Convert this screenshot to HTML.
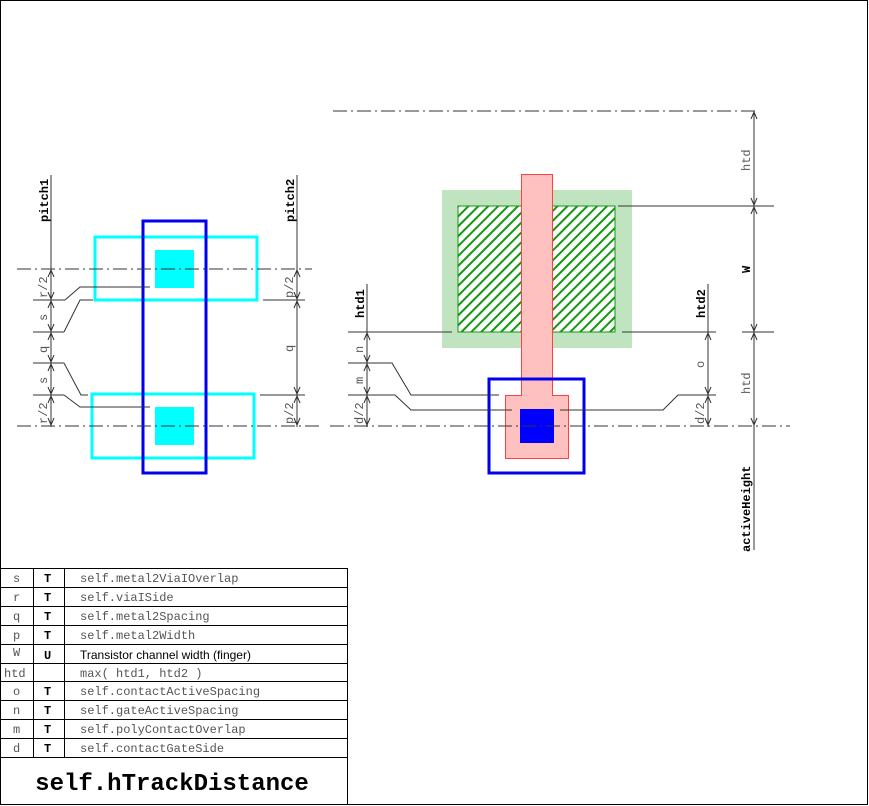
<!DOCTYPE html>
<html><head><meta charset="utf-8"><style>
html,body{margin:0;padding:0;background:#fff}
svg{display:block}
text{font-family:"Liberation Mono",monospace;font-size:12px;fill:#555}
.b{font-weight:bold;fill:#000}
.t{font-size:12px;fill:#444}
</style></head><body>
<svg width="869" height="806" viewBox="0 0 869 806" xmlns="http://www.w3.org/2000/svg">
<defs>
<pattern id="h" patternUnits="userSpaceOnUse" width="7" height="7" patternTransform="rotate(45)">
<rect width="7" height="7" fill="#fff"/><rect x="0" y="0" width="2" height="7" fill="#119911"/>
</pattern>
<marker id="a" markerWidth="8" markerHeight="8" refX="0" refY="4" orient="auto-start-reverse" markerUnits="userSpaceOnUse" viewBox="-8 0 8 8">
<path d="M-7,1 L0,4 L-7,7" fill="none" stroke="#333" stroke-width="1"/>
</marker>
</defs>
<rect x="0.5" y="0.5" width="867" height="804" fill="#fff" stroke="#000"/>

<g stroke="#333" stroke-width="1" fill="none">
<line x1="333" y1="111" x2="758" y2="111" stroke-dasharray="14,4,2,4"/>
</g>

<!-- left layout -->
<rect x="95" y="237" width="162" height="63" fill="none" stroke="#00ffff" stroke-width="3"/>
<rect x="92" y="394" width="162" height="64" fill="none" stroke="#00ffff" stroke-width="3"/>
<rect x="143" y="221" width="63" height="252" fill="none" stroke="#0000ee" stroke-width="3"/>
<rect x="155" y="250" width="39" height="38" fill="#00ffff"/>
<rect x="155" y="407" width="39" height="38" fill="#00ffff"/>

<!-- right layout -->
<rect x="442" y="190" width="190" height="158" fill="#c0e4c0"/>
<rect x="458" y="206" width="157" height="126" fill="url(#h)" stroke="#119911" stroke-width="1"/>
<path d="M521.5,174.5 H552.5 V395.5 H568.5 V458.5 H505.5 V395.5 H521.5 Z" fill="#ffc0c0" stroke="#ff4040"/>
<rect x="489" y="379" width="95" height="94" fill="none" stroke="#0000ee" stroke-width="3"/>
<rect x="520" y="409" width="34" height="34" fill="#0000ff"/>

<g stroke="#333" stroke-width="1" fill="none">
<line x1="17" y1="269" x2="312" y2="269" stroke-dasharray="14,4,2,4"/>
<line x1="17" y1="426" x2="322" y2="426" stroke-dasharray="14,4,2,4"/>
<line x1="330" y1="426" x2="790" y2="426" stroke-dasharray="14,4,2,4"/>
<!-- pitch1 -->
<line x1="51" y1="175" x2="51" y2="427"/>
<line x1="33" y1="300" x2="65" y2="300"/>
<line x1="33" y1="332" x2="64" y2="332"/>
<line x1="33" y1="363" x2="64" y2="363"/>
<line x1="33" y1="395" x2="64" y2="395"/>
<polyline points="65,300 80,287 150,287"/>
<polyline points="64,332 80,300 93,300"/>
<polyline points="64,363 81,395 88,395"/>
<polyline points="64,395 80,407 150,407"/>
<g marker-start="url(#a)" marker-end="url(#a)">
<line x1="51" y1="270" x2="51" y2="299"/>
<line x1="51" y1="301" x2="51" y2="331"/>
<line x1="51" y1="333" x2="51" y2="362"/>
<line x1="51" y1="364" x2="51" y2="394"/>
<line x1="51" y1="396" x2="51" y2="425"/>
</g>
<!-- pitch2 -->
<line x1="297" y1="175" x2="297" y2="427"/>
<line x1="263" y1="300" x2="305" y2="300"/>
<line x1="260" y1="395" x2="305" y2="395"/>
<g marker-start="url(#a)" marker-end="url(#a)">
<line x1="297" y1="270" x2="297" y2="299"/>
<line x1="297" y1="301" x2="297" y2="394"/>
<line x1="297" y1="396" x2="297" y2="425"/>
</g>
<!-- htd1 -->
<line x1="367" y1="284" x2="367" y2="427"/>
<line x1="348" y1="332" x2="452" y2="332"/>
<polyline points="348,363 392,363 411,395 499,395"/>
<polyline points="348,395 395,395 411,410 512,410"/>
<g marker-start="url(#a)" marker-end="url(#a)">
<line x1="367" y1="333" x2="367" y2="362"/>
<line x1="367" y1="364" x2="367" y2="394"/>
<line x1="367" y1="396" x2="367" y2="425"/>
</g>
<!-- htd2 -->
<line x1="708" y1="284" x2="708" y2="427"/>
<line x1="622" y1="332" x2="716" y2="332"/>
<polyline points="716,395 678,395 663,410 560,410"/>
<g marker-start="url(#a)" marker-end="url(#a)">
<line x1="708" y1="333" x2="708" y2="394"/>
<line x1="708" y1="396" x2="708" y2="425"/>
</g>
<!-- right dims -->
<line x1="754" y1="111" x2="754" y2="550"/>
<line x1="618" y1="206" x2="774" y2="206"/>
<line x1="742" y1="332" x2="774" y2="332"/>
<g marker-start="url(#a)" marker-end="url(#a)">
<line x1="754" y1="112" x2="754" y2="205"/>
<line x1="754" y1="207" x2="754" y2="331"/>
<line x1="754" y1="333" x2="754" y2="425"/>
</g>
</g>

<g>
<text class="b" transform="translate(48,222) rotate(-90)">pitch1</text>
<text class="b" transform="translate(294,222) rotate(-90)">pitch2</text>
<text transform="translate(47,298) rotate(-90)">r/2</text>
<text transform="translate(47,321) rotate(-90)">s</text>
<text transform="translate(47,353) rotate(-90)">q</text>
<text transform="translate(47,384) rotate(-90)">s</text>
<text transform="translate(47,424) rotate(-90)">r/2</text>
<text transform="translate(293,298) rotate(-90)">p/2</text>
<text transform="translate(293,352) rotate(-90)">q</text>
<text transform="translate(293,424) rotate(-90)">p/2</text>
<text class="b" transform="translate(364,318) rotate(-90)">htd1</text>
<text class="b" transform="translate(705,318) rotate(-90)">htd2</text>
<text transform="translate(363,353) rotate(-90)">n</text>
<text transform="translate(363,384) rotate(-90)">m</text>
<text transform="translate(363,424) rotate(-90)">d/2</text>
<text transform="translate(704,368) rotate(-90)">o</text>
<text transform="translate(704,424) rotate(-90)">d/2</text>
<text transform="translate(750,171) rotate(-90)">htd</text>
<text class="b" transform="translate(750,273) rotate(-90)">W</text>
<text transform="translate(750,394) rotate(-90)">htd</text>
<text class="b" transform="translate(750,552) rotate(-90)">activeHeight</text>
</g>

<g stroke="#000" stroke-width="1" fill="none">
<rect x="0.5" y="568.5" width="347" height="236"/>
<line x1="0" y1="587.5" x2="348" y2="587.5"/>
<line x1="0" y1="606.5" x2="348" y2="606.5"/>
<line x1="0" y1="625.5" x2="348" y2="625.5"/>
<line x1="0" y1="644.5" x2="348" y2="644.5"/>
<line x1="0" y1="663.5" x2="348" y2="663.5"/>
<line x1="0" y1="681.5" x2="348" y2="681.5"/>
<line x1="0" y1="700.5" x2="348" y2="700.5"/>
<line x1="0" y1="719.5" x2="348" y2="719.5"/>
<line x1="0" y1="738.5" x2="348" y2="738.5"/>
<line x1="0" y1="757.5" x2="348" y2="757.5"/>
<line x1="33.5" y1="568" x2="33.5" y2="757"/>
<line x1="64.5" y1="568" x2="64.5" y2="757"/>
</g>
<g class="t">
<text x="13" y="582">s</text><text class="b" x="44" y="582">T</text><text x="80" y="582">self.metal2ViaIOverlap</text>
<text x="13" y="601">r</text><text class="b" x="44" y="601">T</text><text x="80" y="601">self.viaISide</text>
<text x="13" y="620">q</text><text class="b" x="44" y="620">T</text><text x="80" y="620">self.metal2Spacing</text>
<text x="13" y="639">p</text><text class="b" x="44" y="639">T</text><text x="80" y="639">self.metal2Width</text>
<text x="13" y="656">W</text><text class="b" x="44" y="659">U</text><text x="80" y="659" style="font-family:'Liberation Sans',sans-serif;fill:#000">Transistor channel width (finger)</text>
<text x="4" y="677">htd</text><text x="80" y="677">max( htd1, htd2 )</text>
<text x="13" y="695">o</text><text class="b" x="44" y="695">T</text><text x="80" y="695">self.contactActiveSpacing</text>
<text x="13" y="714">n</text><text class="b" x="44" y="714">T</text><text x="80" y="714">self.gateActiveSpacing</text>
<text x="13" y="733">m</text><text class="b" x="44" y="733">T</text><text x="80" y="733">self.polyContactOverlap</text>
<text x="13" y="752">d</text><text class="b" x="44" y="752">T</text><text x="80" y="752">self.contactGateSide</text>
</g>
<text class="b" x="172" y="790" text-anchor="middle" style="font-size:24px">self.hTrackDistance</text>
</svg>
</body></html>
